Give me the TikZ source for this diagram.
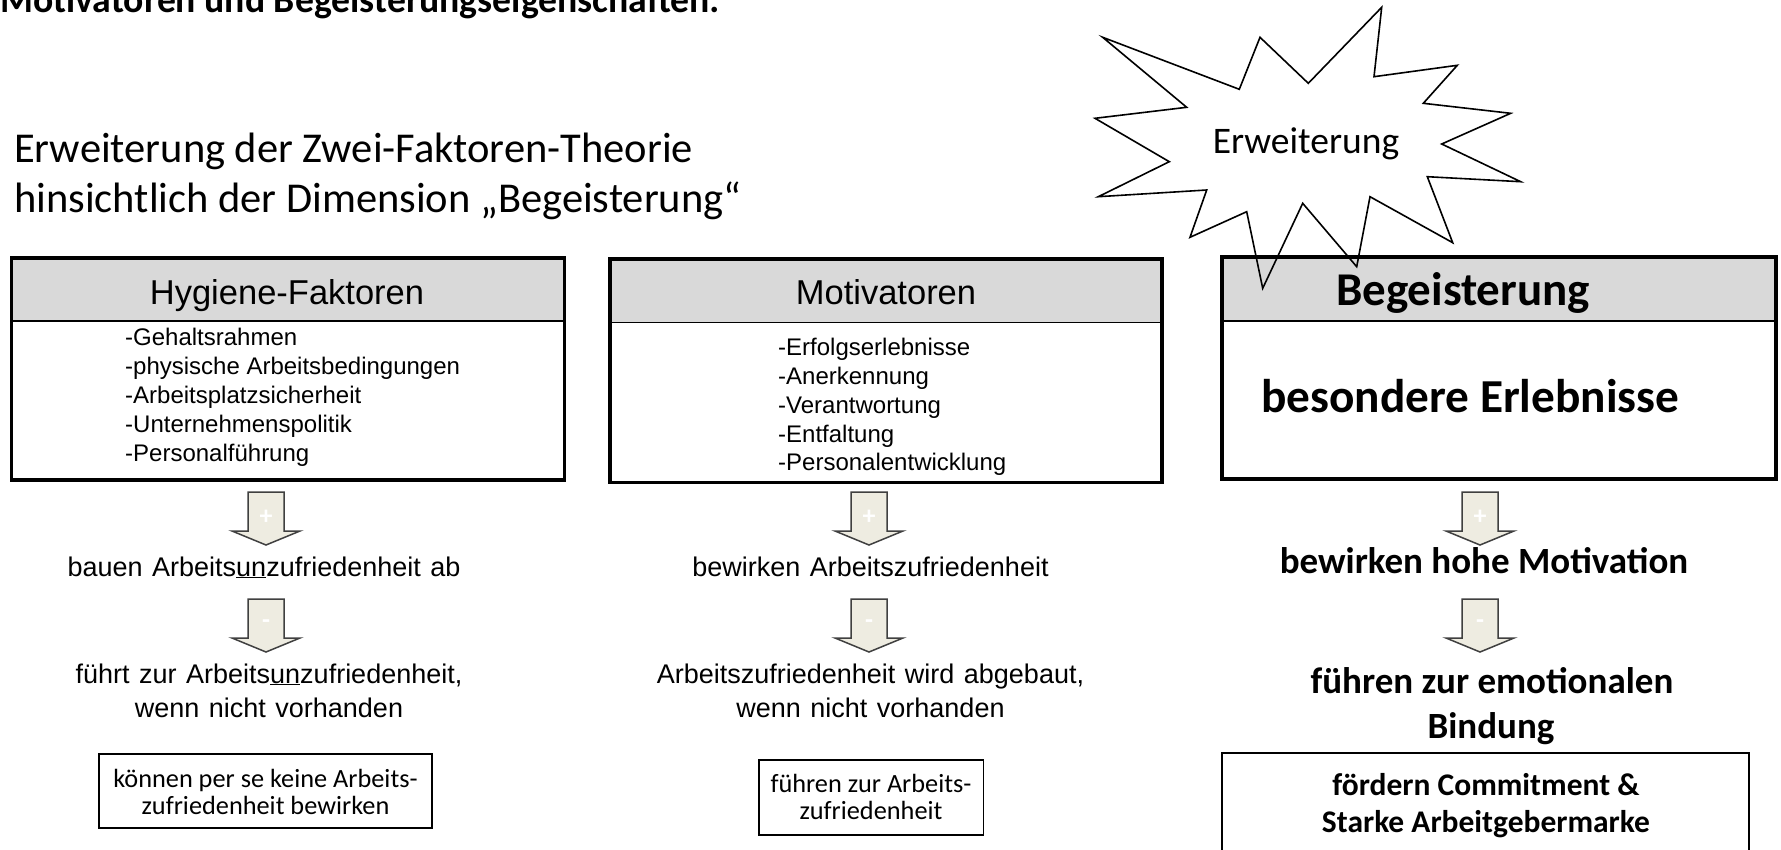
\documentclass[tikz,border=0pt]{standalone}
\usepackage{fontspec}
\setmainfont{Liberation Sans}
\newfontfamily\calibri{Carlito}

\definecolor{kopfgrau}{RGB}{217,217,217}
\definecolor{pfeilbeige}{RGB}{238,236,225}
\definecolor{pfeilrand}{RGB}{64,64,64}

\newcommand\weitwort{\spaceskip 9.5pt plus 2pt minus 1pt\relax}

\tikzset{
  rahmen/.style={draw=black,line width=3.5pt},
  kopffeld/.style={fill=kopfgrau},
  trennlinie/.style={draw=black,line width=1.8pt},
  hinweis/.style={draw=black,line width=1.5pt},
  stern/.style={draw=black,line width=1.6pt,line join=miter},
  fliess/.style={inner sep=0pt,anchor=base,font=\fontsize{27}{32}\selectfont},
  liste/.style={inner sep=0pt,anchor=base west,font=\fontsize{24}{29}\selectfont},
  kopftext/.style={inner sep=0pt,anchor=base,font=\fontsize{34.5}{40}\selectfont},
  fett/.style={inner sep=0pt,anchor=base,font=\calibri\bfseries\fontsize{37}{44}\selectfont},
  klein/.style={inner sep=0pt,anchor=base,font=\calibri\fontsize{26.3}{30}\selectfont},
  pfeil/.style={fill=pfeilbeige,draw=pfeilrand,line width=1.5pt},
  zeichen/.style={text=white,inner sep=0pt,font=\calibri\bfseries\fontsize{26}{26}\selectfont},
  pics/blockpfeil/.style={code={
    \filldraw[pfeil] (-18,0) -- (18,0) -- (18,39) -- (34,39) -- (0,53) -- (-34,39) -- (-18,39) -- cycle;
    \node[zeichen] (-z) at (0,25) {#1};
  }}
}

\begin{document}
\begin{tikzpicture}[x=1pt,y=-1pt]
  \useasboundingbox (0,0) rectangle (1781,849);
  \clip (0,0) rectangle (1781,849);
  \fill[white] (0,0) rectangle (1781,849);

  % Ueberschriften
  \node[anchor=base west,inner sep=0pt,font=\calibri\bfseries\fontsize{37.7}{45}\selectfont] (titel) at (0,12.5) {Motivatoren und Begeisterungseigenschaften:};
  \node[anchor=base west,inner sep=0pt,font=\calibri\fontsize{42.5}{51}\selectfont] (unter1) at (14,162) {Erweiterung der Zwei-Faktoren-Theorie};
  \node[anchor=base west,inner sep=0pt,font=\calibri\fontsize{42.5}{51}\selectfont] (unter2) at (14,212) {hinsichtlich der Dimension „Begeisterung“};

  % Hygiene-Faktoren
  \filldraw[kopffeld] (11.5,258) rectangle (564.5,321);
  \draw[trennlinie] (11.5,321) -- (564.5,321);
  \draw[rahmen] (11.5,258) rectangle (564.5,480);
  \node[kopftext] (hygkopf) at (287,304) {Hygiene-Faktoren};
  \foreach \eintrag [count=\i] in {Gehaltsrahmen,physische Arbeitsbedingungen,Arbeitsplatzsicherheit,Unternehmenspolitik,Personalführung}
    \node[liste] (hyg\i) at (125,316+29*\i) {-\eintrag};

  % Motivatoren
  \filldraw[kopffeld] (610,259) rectangle (1162,322.5);
  \draw[trennlinie] (610,322.5) -- (1162,322.5);
  \draw[rahmen] (610,259) rectangle (1162,482.5);
  \node[kopftext] (motkopf) at (886,304) {Motivatoren};
  \foreach \eintrag [count=\i] in {Erfolgserlebnisse,Anerkennung,Verantwortung,Entfaltung,Personalentwicklung}
    \node[liste] (mot\i) at (778,327+28.75*\i) {-\eintrag};

  % Begeisterung
  \filldraw[kopffeld] (1222,257) rectangle (1776,321);
  \draw[trennlinie] (1222,321) -- (1776,321);
  \draw[rahmen] (1222,257) rectangle (1776,479);
  \node[inner sep=0pt,anchor=base,font=\calibri\bfseries\fontsize{47}{56}\selectfont] (begkopf) at (1463,305) {Begeisterung};
  \node[inner sep=0pt,anchor=base west,font=\calibri\bfseries\fontsize{47.3}{56}\selectfont] (erlebnisse) at (1261,412) {besondere Erlebnisse};

  % Stern
  \draw[stern] (1102.7,37.3) -- (1239.3,89.3) -- (1260,37.3) -- (1308.3,83.3) -- (1381.7,7.3)
    -- (1374,76.7) -- (1457.3,65.3) -- (1423.3,103.3) -- (1510.7,113.3) -- (1441.7,144)
    -- (1520.7,181.7) -- (1427.3,176.7) -- (1452.7,242.7) -- (1370,196.7) -- (1356.7,266.7)
    -- (1302.7,203.3) -- (1262.7,288.3) -- (1246.7,211.7) -- (1190,237.3) -- (1206.7,190)
    -- (1098.3,196.7) -- (1169.3,161.7) -- (1095,118.3) -- (1186.7,107.3) -- cycle;
  \node[inner sep=0pt,anchor=base,font=\calibri\fontsize{37.5}{45}\selectfont] (erw) at (1306,153) {Erweiterung};

  % Pfeile
  \pic (pfA1) at (266,492) {blockpfeil=+};
  \pic (pfA2) at (266,599) {blockpfeil=-};
  \pic (pfB1) at (869,492) {blockpfeil=+};
  \pic (pfB2) at (869,599) {blockpfeil=-};
  \pic (pfC1) at (1480,492) {blockpfeil=+};
  \pic (pfC2) at (1480,599) {blockpfeil=-};

  % Spalte 1
  \node[fliess] (hygw1) at (264,576) {\weitwort bauen Arbeits\underline{un}zufriedenheit ab};
  \node[fliess] (hygw2) at (269,683) {\weitwort führt zur Arbeits\underline{un}zufriedenheit,};
  \node[fliess] (hygw3) at (269,717) {\weitwort wenn nicht vorhanden};
  \draw[hinweis] (99,754) rectangle (432,828);
  \node[klein] (hygbox1) at (265.5,787) {können per se keine Arbeits-};
  \node[klein] (hygbox2) at (265.5,814.5) {zufriedenheit bewirken};

  % Spalte 2
  \node[fliess] (motw1) at (870.5,576) {\weitwort bewirken Arbeitszufriedenheit};
  \node[fliess] (motw2) at (870.5,683) {\weitwort Arbeitszufriedenheit wird abgebaut,};
  \node[fliess] (motw3) at (870.5,717) {\weitwort wenn nicht vorhanden};
  \draw[hinweis] (759,760) rectangle (983.5,835);
  \node[klein] (motbox1) at (871,792) {führen zur Arbeits-};
  \node[klein] (motbox2) at (871,819) {zufriedenheit};

  % Spalte 3
  \node[fett] (begw1) at (1484,573) {bewirken hohe Motivation};
  \node[fett] (begw2) at (1492,693.5) {führen zur emotionalen};
  \node[fett] (begw3) at (1491,738) {Bindung};
  \draw[line width=2.5pt] (1222,753) rectangle (1749,870);
  \node[inner sep=0pt,anchor=base,font=\calibri\bfseries\fontsize{31.5}{38}\selectfont] (begbox1) at (1486,795) {fördern Commitment \&};
  \node[inner sep=0pt,anchor=base,font=\calibri\bfseries\fontsize{31.5}{38}\selectfont] (begbox2) at (1486,832) {Starke Arbeitgebermarke};
\end{tikzpicture}
\end{document}
